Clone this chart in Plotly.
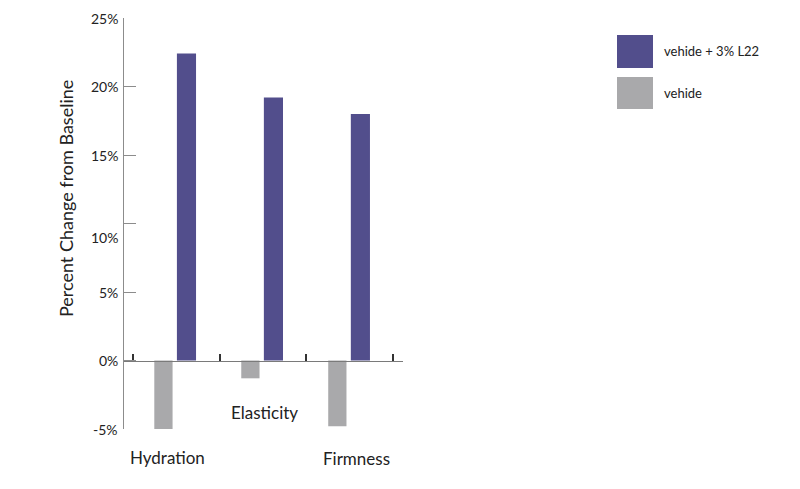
import plotly.graph_objects as go

categories = ["Hydration", "Elasticity", "Firmness"]
vehicle = [-5.0, -1.3, -4.8]
treated = [22.4, 19.2, 18.0]
series_names = ["vehide + 3% L22", "vehide"]
tick_vals = [-5, 0, 5, 10, 15, 20, 25]
tick_text = ["-5%", "0%", "5%", "10%", "15%", "20%", "25%"]

PURPLE = "#524e8c"
GRAY = "#a9a9ab"
FONT = "Lato"
W, H = 800, 489

fig = go.Figure()
fig.add_trace(go.Bar(x=categories, y=vehicle, name=series_names[1],
                     marker=dict(color=GRAY, line=dict(width=0)),
                     offset=-0.25, width=0.21, showlegend=False))
fig.add_trace(go.Bar(x=categories, y=treated, name=series_names[0],
                     marker=dict(color=PURPLE, line=dict(width=0)),
                     offset=0.01, width=0.22, showlegend=False))

x0, x1 = 123 / W, 403 / W
ybot, ytop = (H - 429) / H, (H - 18) / H
zero_pos = (H - 361) / H

fig.update_layout(
    width=W, height=H,
    margin=dict(l=0, r=0, t=0, b=0),
    paper_bgcolor="white", plot_bgcolor="white",
    font=dict(family=FONT, color="#222"),
    xaxis=dict(domain=[x0, x1], type="category", range=[-0.61, 2.61],
               anchor="free", position=zero_pos,
               showline=True, linecolor="#7a7a7a", linewidth=1.2,
               showgrid=False, zeroline=False,
               ticks="inside", tickson="boundaries", ticklen=7,
               tickcolor="#333", tickwidth=1.5, showticklabels=False),
    yaxis=dict(domain=[ybot, ytop], range=[-5, 25],
               anchor="free", position=x0,
               showline=True, linecolor="#8c8c8c", linewidth=1.2,
               showgrid=False, zeroline=False,
               tickmode="array", tickvals=tick_vals,
               ticks="inside", ticklen=12, tickcolor="#8c8c8c", tickwidth=1.2,
               showticklabels=False),
)

# y tick labels
for v, t in zip(tick_vals, tick_text):
    fig.add_annotation(x=120 / W, xref="paper", xanchor="right",
                       y=v, yref="y", yanchor="middle",
                       yshift=-14 if v == 10 else 0,
                       text=t, showarrow=False,
                       font=dict(family=FONT, size=14, color="#222"))

# y axis title
fig.add_annotation(x=66 / W, xref="paper", y=(H - 199) / H, yref="paper",
                   text="Percent Change from Baseline", textangle=-90,
                   showarrow=False, xanchor="center", yanchor="middle",
                   font=dict(family=FONT, size=18, color="#222"))

# category labels (staggered as in original)
label_y = [457, 413, 458]
label_dx = [-9, 1, 7]
for c, ly, dx in zip(categories, label_y, label_dx):
    fig.add_annotation(x=c, xref="x", y=(H - ly) / H, yref="paper",
                       xshift=dx, text=c, showarrow=False,
                       xanchor="center", yanchor="middle",
                       font=dict(family=FONT, size=17, color="#222"))

# custom legend
legend_items = [(series_names[0], PURPLE, 35, 68), (series_names[1], GRAY, 77, 109)]
for name, col, t, b in legend_items:
    fig.add_shape(type="rect", xref="paper", yref="paper",
                  x0=617 / W, x1=653 / W, y0=(H - b) / H, y1=(H - t) / H,
                  fillcolor=col, line=dict(width=0))
    fig.add_annotation(x=662 / W, xref="paper", y=(H - (t + b) / 2) / H, yref="paper",
                       text=name, showarrow=False, xanchor="left", yanchor="middle",
                       font=dict(family=FONT, size=13, color="#222"))

fig.write_html("out.html")
